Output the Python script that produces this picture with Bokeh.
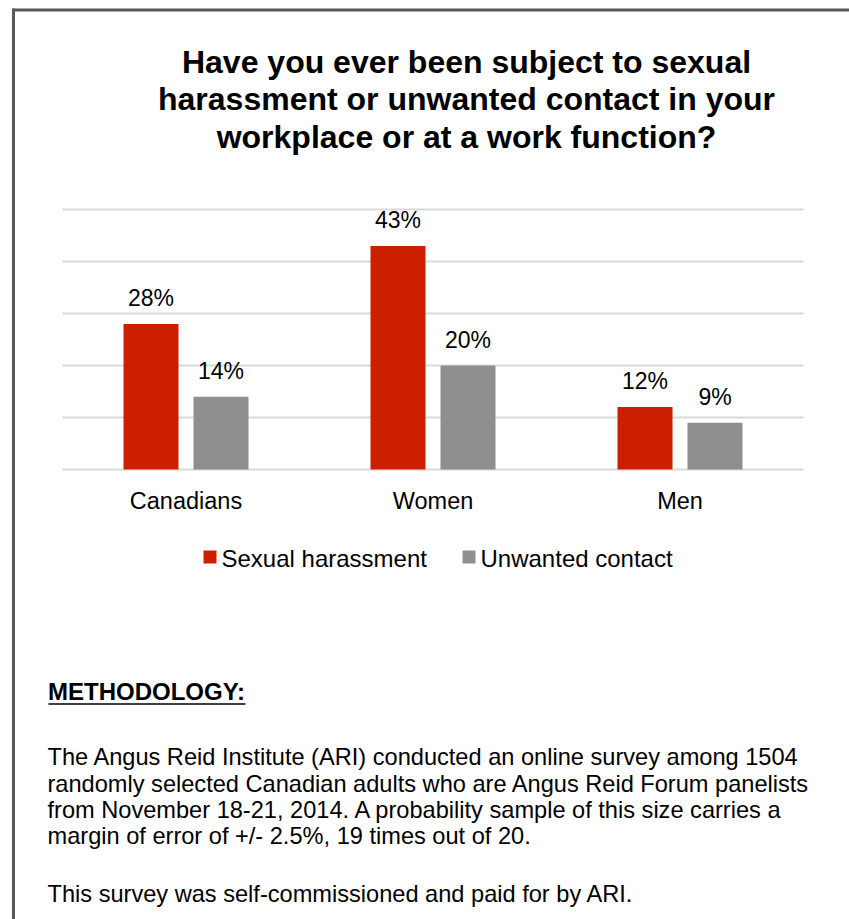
from bokeh.plotting import figure
from bokeh.models import Range1d, ColumnDataSource
from bokeh.core.properties import value
from bokeh.transform import dodge
from bokeh.embed import file_html
from bokeh.resources import INLINE

# ---------------- data ----------------
categories = ["Canadians", "Women", "Men"]
sexual_harassment = [28, 43, 12]
unwanted_contact = [14, 20, 9]
series_names = ["Sexual harassment", "Unwanted contact"]
grid_ticks = [0, 10, 20, 30, 40, 50]

title_lines = [
    "Have you ever been subject to sexual",
    "harassment or unwanted contact in your",
    "workplace or at a work function?",
]
method_heading = "METHODOLOGY:"
method_lines = [
    "The Angus Reid Institute (ARI) conducted an online survey among 1504",
    "randomly selected Canadian adults who are Angus Reid Forum panelists",
    "from November 18-21, 2014. A probability sample of this size carries a",
    "margin of error of +/- 2.5%, 19 times out of 20.",
    "This survey was self-commissioned and paid for by ARI.",
]

# ---------------- layout / style ----------------
W, H = 849, 919
CAT_PX = 247          # pixels per category
PLOT_LEFT = 62        # canvas x of category axis start
BASE_PX = 469         # canvas y of value 0
PX_PER_PCT = 5.2      # pixels per percentage point
RED = "#cc1f00"
GRAY = "#8f8f8f"
FONT = value("Liberation Sans")
OFF = 35 / CAT_PX
BAR_W = 55 / CAT_PX

n = len(categories)
x_start = -PLOT_LEFT / CAT_PX
x_end = (W - PLOT_LEFT) / CAT_PX
y_start = (BASE_PX - H) / PX_PER_PCT
y_end = BASE_PX / PX_PER_PCT

p = figure(width=W, height=H, x_range=Range1d(x_start, x_end),
           y_range=Range1d(y_start, y_end), output_backend="svg",
           toolbar_location=None, tools="", min_border=0,
           x_axis_location=None, y_axis_location=None)
p.grid.visible = False
p.outline_line_color = None
p.background_fill_color = "white"
p.border_fill_color = "white"
p.extra_x_ranges = {"px": Range1d(0, W)}
p.extra_y_ranges = {"px": Range1d(H, 0)}

# page border (top and left)
p.segment(x0=[12, 13], y0=[9.5, 8], x1=[W, 13], y1=[9.5, H],
          x_range_name="px", y_range_name="px", line_color="#595959", line_width=3)

# title
p.text(x=[466] * len(title_lines), y=[61, 98.5, 136], text=title_lines,
       x_range_name="px", y_range_name="px", text_align="center",
       text_baseline="middle", text_font=FONT, text_font_size="32px",
       text_font_style="bold", text_color="black")

# gridlines
p.segment(x0=[0] * len(grid_ticks), x1=[n] * len(grid_ticks), y0=grid_ticks, y1=grid_ticks,
          line_color="#d9d9d9", line_width=2)

src = ColumnDataSource(dict(
    x=[i + 0.5 for i in range(n)],
    cat=categories,
    sh=sexual_harassment,
    uc=unwanted_contact,
    sh_lab=[f"{v}%" for v in sexual_harassment],
    uc_lab=[f"{v}%" for v in unwanted_contact],
))

p.vbar(x=dodge("x", -OFF), top="sh", bottom=0, width=BAR_W, source=src,
       fill_color=RED, line_color=None)
p.vbar(x=dodge("x", OFF), top="uc", bottom=0, width=BAR_W, source=src,
       fill_color=GRAY, line_color=None)

lab_kw = dict(text_align="center", text_baseline="middle", text_font=FONT,
              text_font_size="23px", text_color="black", y_offset=-26)
p.text(x=dodge("x", -OFF), y="sh", text="sh_lab", source=src, **lab_kw)
p.text(x=dodge("x", OFF), y="uc", text="uc_lab", source=src, **lab_kw)

# category labels
p.text(x=[i + 0.5 for i in range(n)], y=[500.5] * n, text=categories, y_range_name="px",
       text_align="center", text_baseline="middle", text_font=FONT,
       text_font_size="23.5px", text_color="black")

# legend
p.rect(x=[209.5, 468.5], y=[556.5, 556.5], width=13, height=13,
       width_units="screen", height_units="screen",
       x_range_name="px", y_range_name="px", fill_color=[RED, GRAY], line_color=None)
p.text(x=[221, 480], y=[558, 558], text=series_names, x_range_name="px", y_range_name="px",
       text_align="left", text_baseline="middle", text_font=FONT,
       text_font_size="24px", text_color="black")

# methodology
p.text(x=[47.5], y=[691], text=[method_heading], x_range_name="px", y_range_name="px",
       text_align="left", text_baseline="middle", text_font=FONT,
       text_font_size="24px", text_font_style="bold", text_color="black")
p.segment(x0=[48], x1=[245], y0=[703.5], y1=[703.5], x_range_name="px", y_range_name="px",
          line_color="black", line_width=1.5)
p.text(x=[47] * len(method_lines), y=[756, 783, 809.5, 835.5, 893.5], text=method_lines,
       x_range_name="px", y_range_name="px", text_align="left", text_baseline="middle",
       text_font=FONT, text_font_size="23.6px", text_color="black")

open("out.html", "w").write(file_html(p, INLINE))
